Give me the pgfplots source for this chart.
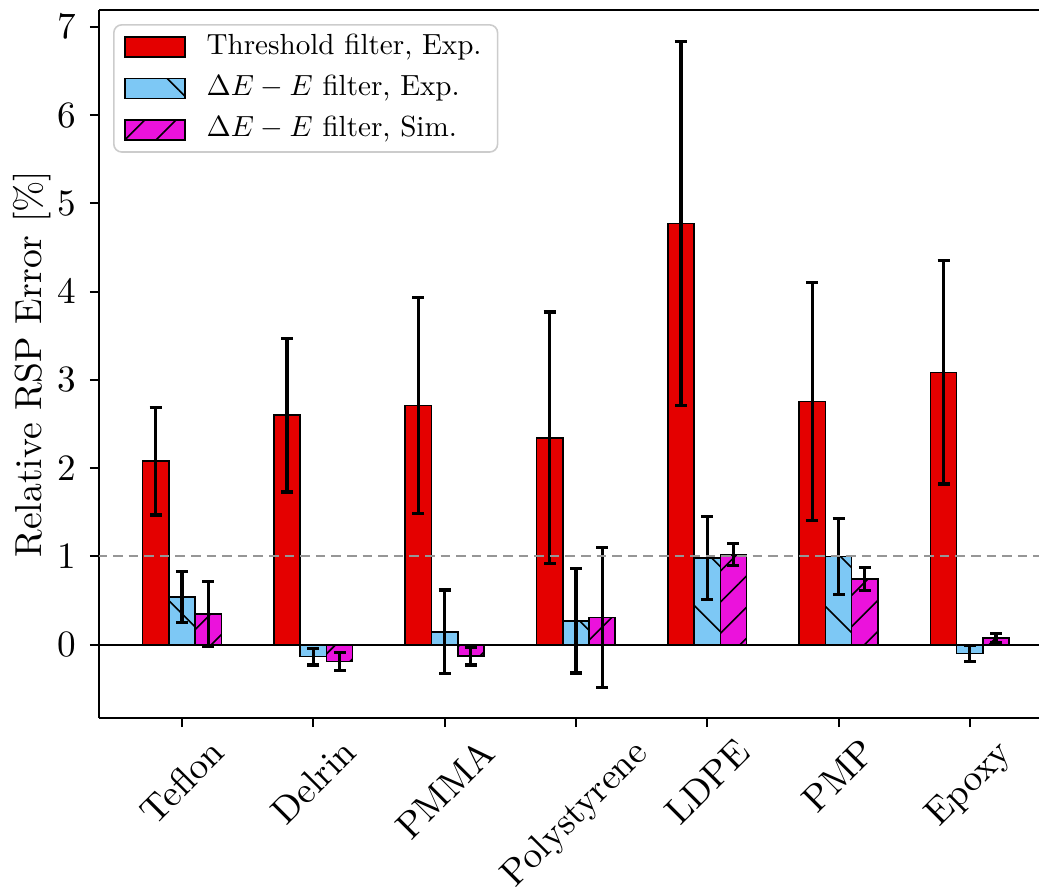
\documentclass[border=0pt]{standalone}
\usepackage{pgfplots}
\pgfplotsset{compat=1.18}
\usepackage{graphicx}
\usetikzlibrary{patterns.meta}

\definecolor{barred}{RGB}{228,0,0}
\definecolor{barblue}{RGB}{125,200,245}
\definecolor{barmag}{RGB}{235,18,220}
\definecolor{lightgray204}{RGB}{204,204,204}
\definecolor{refgray}{RGB}{150,150,150}

% scaled 10pt design, so every size keeps the same letter shapes
\newcommand{\tf}[1]{\scalebox{0.93}{\fontsize{10}{12}\selectfont #1}}
\newcommand{\rl}[1]{\rotatebox{45}{\tf{#1}}}
\newcommand{\legtext}[1]{\scalebox{0.728}{\fontsize{10}{12}\selectfont #1}}

% x  value  error
\pgfplotstableread{
x     y      err
-0.2  2.08   0.61
0.8   2.60   0.87
1.8   2.71   1.22
2.8   2.345  1.425
3.8   4.77   2.06
4.8   2.755  1.345
5.8   3.085  1.265
}\threshexp

\pgfplotstableread{
x     y      err
0     0.54   0.29
1    -0.135  0.095
2     0.145  0.475
3     0.27   0.59
4     0.98   0.47
5     1.00   0.43
6    -0.10   0.09
}\deexp

\pgfplotstableread{
x     y      err
0.2   0.35   0.37
1.2  -0.19   0.10
2.2  -0.13   0.10
3.2   0.31   0.795
4.2   1.02   0.125
5.2   0.745  0.13
6.2   0.075  0.05
}\desim

\begin{document}
\begin{tikzpicture}
\begin{axis}[
  scale only axis,
  width=235pt, height=177pt,
  xmin=-0.632, xmax=6.527,
  ymin=-0.83, ymax=7.19,
  axis x line*=box, axis y line*=left,
  axis line style={line width=0.5pt},
  tick pos=left,
  tick align=outside,
  major tick length=2.3pt,
  tick style={line width=0.5pt, black},
  xtick={0,1,2,3,4,5,6},
  xticklabels={\rl{Teflon},\rl{Delrin},\rl{PMMA},\rl{Polystyrene},\rl{LDPE},\rl{PMP},\rl{Epoxy}},
  ytick={0,1,2,3,4,5,6,7},
  yticklabel={\tf{$\pgfmathprintnumber{\tick}$}},
  xticklabel style={anchor=north, yshift=1.2pt},
  ylabel={\scalebox{0.94}{Relative RSP Error [\%]}},
  every axis y label/.style={at={(axis description cs:-0.05,0.5)}, rotate=90, anchor=south,
    inner sep=0pt, font=\fontsize{10}{12}\selectfont},
  legend cell align={left},
  legend style={
    at={(0.0149,0.9802)}, anchor=north west,
    draw=lightgray204, rounded corners=2pt,
    fill=white, fill opacity=0.8, text opacity=1, draw opacity=1,
    font=\fontsize{7.28}{8.7}\selectfont,
    inner xsep=2.5pt, inner ysep=0.8pt,
    nodes={inner sep=1.5pt},
    row sep=0.7pt,
    /tikz/every odd column/.append style={column sep=3.75pt},
    /tikz/every even column/.append style={text height=5.1pt, text depth=1.45pt},
  },
  legend image code/.code={\draw[#1, line width=0.45pt, fill opacity=1, sharp corners] (0pt,-2.5pt) rectangle (15pt,2.5pt);},
]
\addplot[ybar, bar width=0.2, bar shift=0, fill=barred, draw=black, line width=0.4pt,
  error bars/.cd, y dir=both, y explicit,
  error bar style={line width=0.8pt, black},
  error mark options={rotate=90, mark size=1.5pt, line width=0.8pt, black}]
  table[x=x, y=y, y error=err] {\threshexp};
\addlegendentry{\legtext{Threshold filter, Exp.}}
\addplot[ybar, bar width=0.2, bar shift=0, fill=barblue, draw=black, line width=0.4pt,
  postaction={pattern={Lines[angle=-45, distance=11.5pt, line width=0.4pt]}, pattern color=black},
  error bars/.cd, y dir=both, y explicit,
  error bar style={line width=0.8pt, black},
  error mark options={rotate=90, mark size=1.5pt, line width=0.8pt, black}]
  table[x=x, y=y, y error=err] {\deexp};
\addlegendentry{\legtext{$\Delta E - E$ filter, Exp.}}
\addplot[ybar, bar width=0.2, bar shift=0, fill=barmag, draw=black, line width=0.4pt,
  postaction={pattern={Lines[angle=45, distance=5.5pt, line width=0.4pt]}, pattern color=black},
  error bars/.cd, y dir=both, y explicit,
  error bar style={line width=0.8pt, black},
  error mark options={rotate=90, mark size=1.5pt, line width=0.8pt, black}]
  table[x=x, y=y, y error=err] {\desim};
\addlegendentry{\legtext{$\Delta E - E$ filter, Sim.}}
\addplot[black, line width=0.45pt, forget plot] coordinates {(-1,0) (7,0)};
\addplot[refgray, line width=0.5pt, dash pattern=on 2.4pt off 1.5pt, forget plot] coordinates {(-1,1) (7,1)};
\end{axis}
\pgfresetboundingbox
\path ([xshift=-24.75pt,yshift=-42.25pt]current axis.south west) rectangle ([yshift=2.5pt]current axis.north east);
\end{tikzpicture}
\end{document}
